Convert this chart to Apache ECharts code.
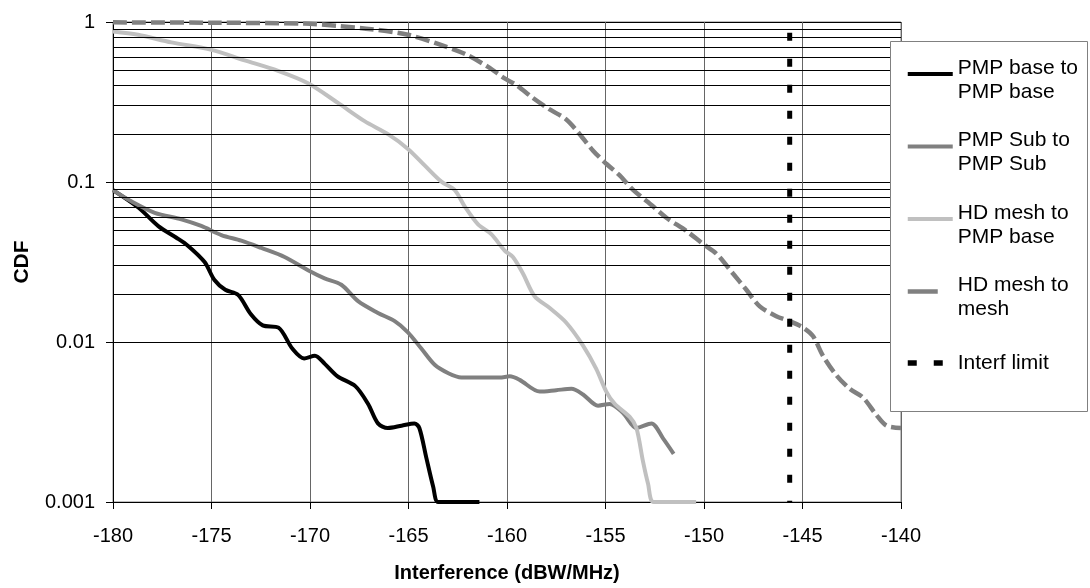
<!DOCTYPE html>
<html>
<head>
<meta charset="utf-8">
<script src="https://cdn.jsdelivr.net/npm/echarts@6/dist/echarts.min.js"></script>
<style>html,body{margin:0;padding:0;background:#fff}#c{width:1090px;height:588px}</style>
</head>
<body>
<div id="c"></div>
<script>
// ---- data ----
const seriesNames = ['PMP base to PMP base', 'PMP Sub to PMP Sub', 'HD mesh to PMP base', 'HD mesh to mesh', 'Interf limit'];
const legendLines = [['PMP base to', 'PMP base'], ['PMP Sub to', 'PMP Sub'], ['HD mesh to', 'PMP base'], ['HD mesh to', 'mesh'], ['Interf limit']];
const xTicks = [-180, -175, -170, -165, -160, -155, -150, -145, -140];
const yTicks = [0.001, 0.01, 0.1, 1];

const pmpBaseX = [-180,-178.7,-177.7,-176.8,-176.2,-175.35,-174.85,-174.3,-173.65,-173,-172.4,-171.6,-170.9,-170.3,-169.75,-169.25,-168.6,-167.7,-167.05,-166.55,-166.05,-165.35,-164.7,-164.45,-164.1,-163.75,-163.5,-162.7,-161.4];
const pmpBaseY = [0.089,0.069,0.053,0.045,0.040,0.0316,0.0244,0.0212,0.0197,0.0149,0.0127,0.0123,0.0091,0.0079,0.0082,0.0073,0.0061,0.0053,0.0041,0.0031,0.0029,0.0030,0.0031,0.0029,0.0019,0.00125,0.001,0.001,0.001];

const pmpSubX = [-180,-179.07,-177.88,-176.53,-175.52,-174.5,-173.49,-172.47,-171.29,-170.1,-169.26,-168.41,-167.56,-166.55,-165.7,-165.03,-164.35,-163.67,-163.0,-162.32,-161.3,-160.37,-159.86,-159.36,-158.34,-157.5,-156.73,-156.14,-155.38,-154.79,-154.11,-153.43,-152.67,-152.08,-151.54];
const pmpSubY = [0.089,0.0757,0.0642,0.0584,0.0531,0.0466,0.043,0.0387,0.034,0.0281,0.025,0.0228,0.018,0.0152,0.0135,0.0115,0.0091,0.0072,0.0064,0.006,0.006,0.006,0.0061,0.0058,0.0049,0.005,0.0051,0.0047,0.004,0.0041,0.0036,0.0029,0.0031,0.0025,0.002];

const hdPmpX = [-180,-178.73,-177.04,-175,-173.32,-171.62,-170.1,-168.58,-167.23,-166.04,-165.03,-164.18,-163.33,-162.66,-162.15,-161.47,-160.8,-160.12,-159.7,-159.19,-158.6,-157.83,-156.99,-156.14,-155.47,-154.96,-154.53,-153.77,-153.43,-153.1,-152.84,-152.55,-150.4];
const hdPmpY = [0.872,0.832,0.746,0.67,0.576,0.495,0.414,0.312,0.24,0.199,0.161,0.127,0.1005,0.0893,0.0705,0.0544,0.0472,0.0373,0.034,0.0268,0.0193,0.0163,0.0132,0.0095,0.0068,0.0049,0.0041,0.0034,0.0029,0.0018,0.0013,0.001,0.001];

const meshX = [-180,-175,-170.27,-168.58,-166.89,-165.03,-163.5,-162.15,-160.96,-160.12,-159.53,-158.68,-157.83,-156.99,-156.31,-155.63,-154.96,-154.28,-153.6,-152.59,-151.91,-150.9,-150.05,-149.37,-148.53,-147.85,-147.17,-146.33,-145.65,-144.97,-144.47,-143.96,-143.28,-142.6,-141.93,-141.25,-140.74,-140];
const meshY = [0.995,0.99,0.977,0.945,0.902,0.832,0.729,0.633,0.524,0.444,0.404,0.335,0.284,0.246,0.199,0.157,0.13,0.11,0.0893,0.0705,0.0598,0.0495,0.041,0.0356,0.0268,0.0212,0.0167,0.0145,0.0135,0.0123,0.0109,0.0082,0.0062,0.0051,0.0045,0.0035,0.003,0.0029];

const limitX = [-145.65, -145.65];
const limitY = [1, 0.001];

// ---- build ----
const zip = (xs, ys) => xs.map((x, i) => [x, ys[i]]);
const FONT = 'Liberation Sans, Arial, sans-serif';
const FS = 20;
const LFS = 21;

// minor log grid positions (2..9 x each decade)
const minorGrid = [];
for (let d = -3; d < 0; d++) for (let m = 2; m <= 9; m++) minorGrid.push(+(m * Math.pow(10, d)).toPrecision(3));

const chart = echarts.init(document.getElementById('c'), null, {renderer: 'canvas'});

const lineBase = {type: 'line', symbol: 'none', showSymbol: false, animation: false, smooth: 0.3, z: 3};

const legendIconStyles = [
  {color: '#000', width: 4, type: 'solid'},
  {color: '#808080', width: 4, type: 'solid'},
  {color: '#c0c0c0', width: 4, type: 'solid'},
  {color: '#808080', width: 4.5, type: [30, 100], dashOffset: 0},
  {color: '#000', width: 5.5, type: [9, 17], dashOffset: 0}
];

const option = {
  backgroundColor: '#fff',
  textStyle: {fontFamily: FONT},
  grid: {left: 113, right: 189, top: 22, bottom: 79, show: true, borderColor: '#808080', borderWidth: 1, containLabel: false},
  xAxis: {
    type: 'value', min: -180, max: -140, interval: 5,
    axisLine: {show: true, onZero: false, lineStyle: {color: '#000', width: 1}},
    axisTick: {show: true, inside: false, length: 7, lineStyle: {color: '#000'}},
    axisLabel: {color: '#000', fontSize: FS, fontFamily: FONT, margin: 24,
      formatter: v => xTicks.includes(v) ? String(v) : ''},
    splitLine: {show: true, lineStyle: {color: '#666', width: 1}},
    name: 'Interference (dBW/MHz)', nameLocation: 'middle', nameGap: 61,
    nameTextStyle: {color: '#000', fontSize: FS, fontWeight: 'bold', fontFamily: FONT}
  },
  yAxis: {
    type: 'log', logBase: 10, min: 0.001, max: 1,
    axisLine: {show: true, lineStyle: {color: '#000', width: 1}},
    axisTick: {show: true, inside: false, length: 7, lineStyle: {color: '#000'}},
    axisLabel: {color: '#000', fontSize: FS, fontFamily: FONT, margin: 18,
      formatter: v => { const t = yTicks.find(k => Math.abs(k - v) / k < 1e-6); return t === undefined ? '' : String(t); }},
    splitLine: {show: true, lineStyle: {color: '#000', width: 1}},
    name: 'CDF', nameLocation: 'middle', nameGap: 80,
    nameTextStyle: {color: '#000', fontSize: 21, fontWeight: 'bold', fontFamily: FONT}
  },
  legend: {
    orient: 'vertical', left: 905, top: 48, padding: 0, itemGap: 18,
    itemWidth: 45, itemHeight: 14, z: 10,
    data: seriesNames.map((n, i) => ({
      name: n,
      itemStyle: {opacity: 0},
      lineStyle: legendIconStyles[i]
    })),
    formatter: name => {
      const ls = legendLines[seriesNames.indexOf(name)];
      if (ls.length === 2) return '{s| }\n{a|' + ls[0] + '}\n{a|' + ls[1] + '}';
      return '{t| }\n{a|' + ls[0] + '}\n{t| }';
    },
    textStyle: {color: '#000', fontSize: LFS, fontFamily: FONT,
      rich: {
        a: {fontSize: LFS, fontFamily: FONT, color: '#000', lineHeight: 24},
        s: {fontSize: 4, lineHeight: 12},
        t: {fontSize: 4, lineHeight: 22}
      }}
  },
  graphic: {elements: [{type: 'rect', z: 8, shape: {x: 890.5, y: 41.5, width: 197, height: 370},
    style: {fill: '#fff', stroke: '#808080', lineWidth: 1}}]},
  series: [
    Object.assign({}, lineBase, {name: seriesNames[0], data: zip(pmpBaseX, pmpBaseY),
      lineStyle: {color: '#000', width: 4}, itemStyle: {color: '#000'}}),
    Object.assign({}, lineBase, {name: seriesNames[1], data: zip(pmpSubX, pmpSubY),
      lineStyle: {color: '#808080', width: 4}, itemStyle: {color: '#808080'}}),
    Object.assign({}, lineBase, {name: seriesNames[2], data: zip(hdPmpX, hdPmpY),
      lineStyle: {color: '#c0c0c0', width: 4}, itemStyle: {color: '#c0c0c0'}}),
    Object.assign({}, lineBase, {name: seriesNames[3], data: zip(meshX, meshY),
      lineStyle: {color: '#808080', width: 4.5, type: [14, 5]}, itemStyle: {color: '#808080'}}),
    Object.assign({}, lineBase, {name: seriesNames[4], data: zip(limitX, limitY), smooth: false, z: 4,
      lineStyle: {color: '#000', width: 5, type: [8, 18], dashOffset: 15.3}, itemStyle: {color: '#000'}}),
    {type: 'line', name: '_grid', data: [], z: 1, silent: true, animation: false,
      markLine: {silent: true, symbol: 'none', animation: false, label: {show: false},
        lineStyle: {color: '#000', width: 1, type: 'solid'},
        data: minorGrid.map(v => ({yAxis: v}))}}
  ]
};
chart.setOption(option);
</script>
</body>
</html>
